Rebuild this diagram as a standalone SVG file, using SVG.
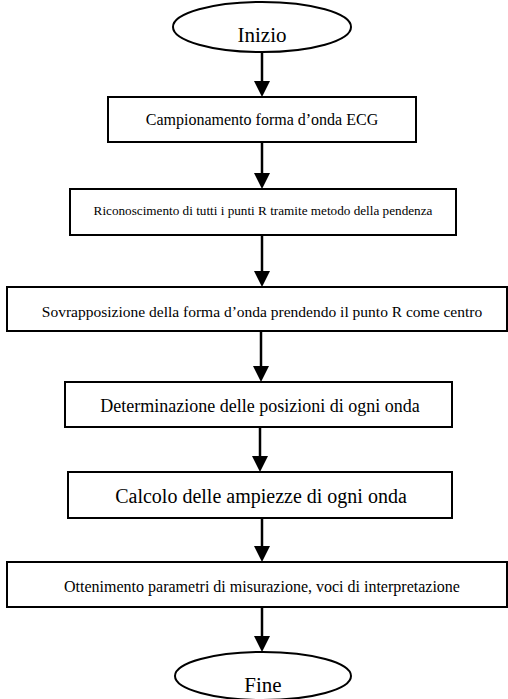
<svg xmlns="http://www.w3.org/2000/svg" width="508" height="699" viewBox="0 0 508 699">
  <style>
    .shape { fill: #ffffff; stroke: #000000; stroke-width: 2; }
    .label { font-family: "Liberation Serif", "Times New Roman", serif; fill: #000000; text-anchor: middle; }
    .flow { stroke: #000000; stroke-width: 2.5; fill: none; marker-end: url(#arrow); }
  </style>
  <defs>
    <marker id="arrow" markerUnits="userSpaceOnUse" markerWidth="16" markerHeight="16" viewBox="0 0 16 16" refX="4" refY="8" orient="auto">
      <path d="M0,0 L16,8 L0,16 z" fill="#000000"/>
    </marker>
  </defs>
  <rect width="508" height="699" fill="#ffffff"/>

  <g id="connectors">
    <line class="flow" x1="262" y1="52" x2="262" y2="85"/>
    <line class="flow" x1="262" y1="142" x2="262" y2="177"/>
    <line class="flow" x1="262" y1="235" x2="262" y2="275"/>
    <line class="flow" x1="261" y1="331" x2="261" y2="370"/>
    <line class="flow" x1="260" y1="427" x2="260" y2="460"/>
    <line class="flow" x1="262" y1="518" x2="262" y2="550"/>
    <line class="flow" x1="262" y1="607" x2="262" y2="640"/>
  </g>

  <g id="start">
    <ellipse class="shape" cx="262" cy="27" rx="89" ry="25"/>
    <text class="label" x="262" y="42" font-size="21">Inizio</text>
  </g>

  <g id="step-sampling">
    <rect class="shape" x="108" y="97" width="308" height="45"/>
    <text class="label" x="262" y="125" font-size="16">Campionamento forma d’onda ECG</text>
  </g>

  <g id="step-r-detection">
    <rect class="shape" x="70" y="189" width="386" height="46"/>
    <text class="label" x="263" y="215" font-size="13.2">Riconoscimento di tutti i punti R tramite metodo della pendenza</text>
  </g>

  <g id="step-overlap">
    <rect class="shape" x="7" y="287" width="500" height="44"/>
    <text class="label" x="262" y="317" font-size="15.5">Sovrapposizione della forma d’onda prendendo il punto R come centro</text>
  </g>

  <g id="step-positions">
    <rect class="shape" x="65" y="382" width="387" height="45"/>
    <text class="label" x="260" y="412" font-size="18">Determinazione delle posizioni di ogni onda</text>
  </g>

  <g id="step-amplitudes">
    <rect class="shape" x="68" y="472" width="384" height="46"/>
    <text class="label" x="261" y="503" font-size="20">Calcolo delle ampiezze di ogni onda</text>
  </g>

  <g id="step-parameters">
    <rect class="shape" x="7" y="562" width="500" height="45"/>
    <text class="label" x="262" y="592" font-size="16">Ottenimento parametri di misurazione, voci di interpretazione</text>
  </g>

  <g id="end">
    <ellipse class="shape" cx="263" cy="676" rx="88" ry="24"/>
    <text class="label" x="263" y="692" font-size="21">Fine</text>
  </g>
</svg>
